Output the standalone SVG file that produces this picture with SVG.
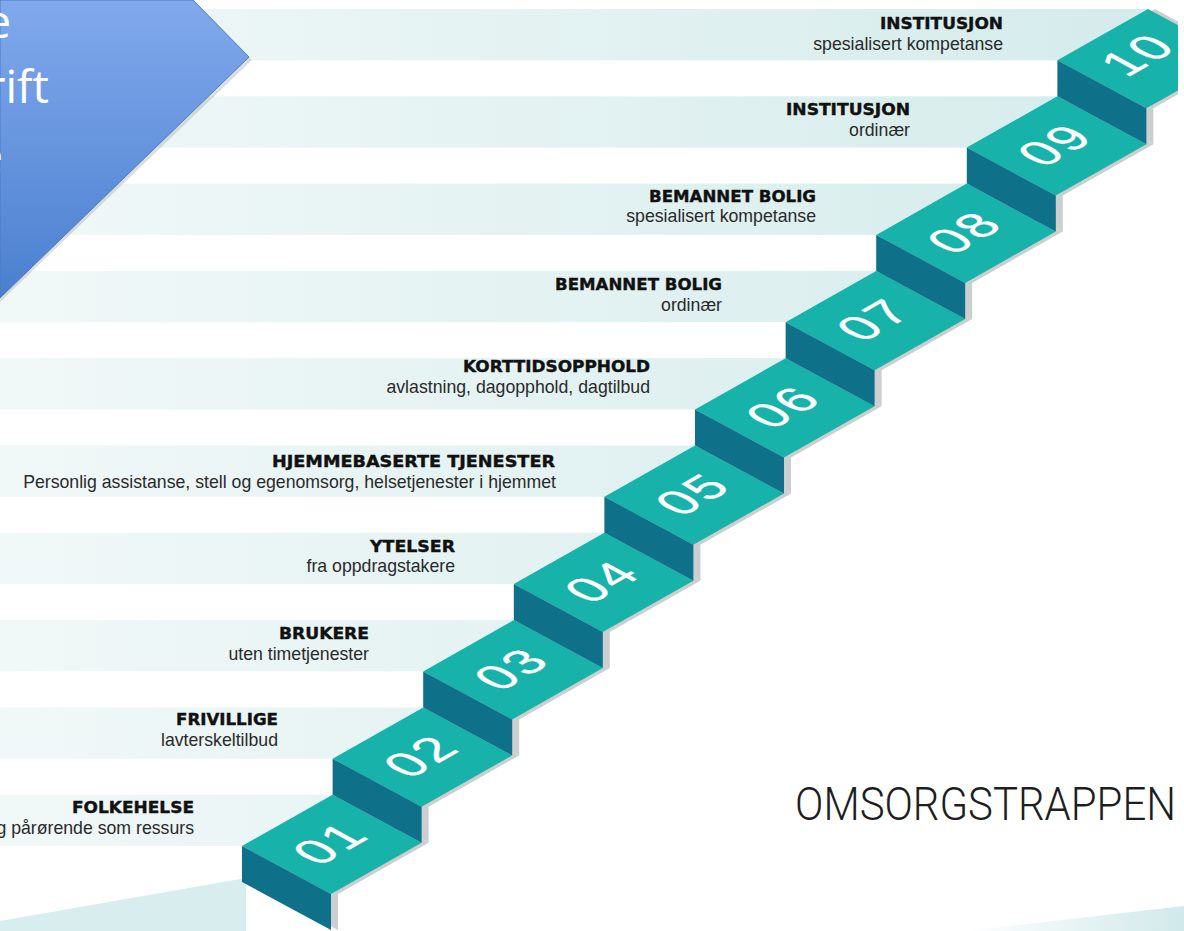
<svg xmlns="http://www.w3.org/2000/svg" xmlns:xlink="http://www.w3.org/1999/xlink" width="1184" height="931" viewBox="0 0 1184 931">
  <style>
    .band { fill: url(#bandGrad); }
    .tread { fill: #17b3aa; }
    .riser { fill: #0f7189; }
    .shadow { fill: #cbcfd0; }
    .num { font-family: "Liberation Sans", Arial, sans-serif; font-size: 50px; fill: #ffffff; stroke: #ffffff; stroke-width: 0.4px; letter-spacing: 3px; text-anchor: middle; }
    .head { font-family: "DejaVu Sans", "Liberation Sans", sans-serif; font-weight: bold; font-size: 16px; fill: #111111; stroke: #111111; stroke-width: 0.4px; }
    .sub { font-family: "Liberation Sans", Arial, sans-serif; font-size: 17.7px; fill: #2a2a2a; text-anchor: end; }
    .title { font-family: "Roboto Light", Roboto, "Liberation Sans", sans-serif; font-weight: 300; font-size: 46px; fill: #1e1e1e; }
    .cut { font-family: "Open Sans", "Noto Sans", sans-serif; font-size: 46px; fill: #ffffff; text-anchor: end; }
  </style>
  <defs>
    <linearGradient id="bandGrad" gradientUnits="userSpaceOnUse" x1="0" y1="0" x2="1100" y2="0">
      <stop offset="0" stop-color="#f1f8f8"/>
      <stop offset="1" stop-color="#d6ecec"/>
    </linearGradient>
    <linearGradient id="floorGrad" gradientUnits="userSpaceOnUse" x1="960" y1="0" x2="1184" y2="0">
      <stop offset="0" stop-color="#ffffff"/>
      <stop offset="1" stop-color="#d0e9ea"/>
    </linearGradient>
    <linearGradient id="blueGrad" gradientUnits="userSpaceOnUse" x1="0" y1="0" x2="0" y2="300">
      <stop offset="0" stop-color="#81a9ed"/>
      <stop offset="1" stop-color="#4a7fce"/>
    </linearGradient>
    <clipPath id="stairClip">
      <rect x="0" y="0" width="1178" height="931"/>
    </clipPath>
    <polygon id="treadShape" points="0,0 90.6,-51.3 179.6,-3.3 89,48"/>
    <polygon id="riserShape" points="0,0 89,48 89,84 0,36"/>
    <polygon id="blockShape" points="0,0 90.6,-51.3 179.6,-3.3 89,48 89,84 0,36"/>
  </defs>

  <rect x="0" y="0" width="1184" height="931" fill="#ffffff"/>

  <!-- background bands -->
  <g id="bands">
    <rect class="band" x="0" y="9" width="1148" height="51.3"/>
    <rect class="band" x="0" y="96.3" width="1057.4" height="51.3"/>
    <rect class="band" x="0" y="183.6" width="966.8" height="51.3"/>
    <rect class="band" x="0" y="270.9" width="876.2" height="51.3"/>
    <rect class="band" x="0" y="358.2" width="785.6" height="51.3"/>
    <rect class="band" x="0" y="445.5" width="695" height="51.3"/>
    <rect class="band" x="0" y="532.8" width="604.4" height="51.3"/>
    <rect class="band" x="0" y="620.1" width="513.8" height="51.3"/>
    <rect class="band" x="0" y="707.4" width="423.2" height="51.3"/>
    <rect class="band" x="0" y="794.7" width="332.6" height="51.3"/>
  </g>

  <!-- floor -->
  <g id="floor">
    <polygon points="0,921 246,878 246,931 0,931" fill="#d8eded"/>
    <polygon points="967,931 1184,906 1184,931" fill="url(#floorGrad)"/>
  </g>

  <!-- blue callout (cut off at the top-left) -->
  <g id="callout">
    <polygon points="0,2 195,2 252,60 0,302" fill="#9aa3ad" opacity="0.35"/>
    <polygon points="0,0 193,0 249,57 0,298" fill="url(#blueGrad)" stroke="#4b7dbf" stroke-width="1"/>
    <text class="cut" x="11" y="38">e</text>
    <text class="cut" x="49" y="103">rift</text>
    <text class="cut" x="3" y="172">e</text>
  </g>

  <!-- labels -->
  <g id="label10">
    <text class="head" x="880" y="29" textLength="123" lengthAdjust="spacingAndGlyphs">INSTITUSJON</text>
    <text class="sub" x="1003" y="49.5">spesialisert kompetanse</text>
  </g>
  <g id="label09">
    <text class="head" x="786" y="115" textLength="124" lengthAdjust="spacingAndGlyphs">INSTITUSJON</text>
    <text class="sub" x="910" y="135.5">ordinær</text>
  </g>
  <g id="label08">
    <text class="head" x="649" y="202" textLength="167" lengthAdjust="spacingAndGlyphs">BEMANNET BOLIG</text>
    <text class="sub" x="816" y="222">spesialisert kompetanse</text>
  </g>
  <g id="label07">
    <text class="head" x="555" y="290" textLength="167" lengthAdjust="spacingAndGlyphs">BEMANNET BOLIG</text>
    <text class="sub" x="722" y="310.5">ordinær</text>
  </g>
  <g id="label06">
    <text class="head" x="463" y="372" textLength="187" lengthAdjust="spacingAndGlyphs">KORTTIDSOPPHOLD</text>
    <text class="sub" x="650" y="392.5">avlastning, dagopphold, dagtilbud</text>
  </g>
  <g id="label05">
    <text class="head" x="272" y="466.5" textLength="283" lengthAdjust="spacingAndGlyphs">HJEMMEBASERTE TJENESTER</text>
    <text class="sub" x="556" y="487.5">Personlig assistanse, stell og egenomsorg, helsetjenester i hjemmet</text>
  </g>
  <g id="label04">
    <text class="head" x="370" y="552" textLength="85" lengthAdjust="spacingAndGlyphs">YTELSER</text>
    <text class="sub" x="455" y="572">fra oppdragstakere</text>
  </g>
  <g id="label03">
    <text class="head" x="279" y="639" textLength="90" lengthAdjust="spacingAndGlyphs">BRUKERE</text>
    <text class="sub" x="369" y="659.5">uten timetjenester</text>
  </g>
  <g id="label02">
    <text class="head" x="176" y="725" textLength="102" lengthAdjust="spacingAndGlyphs">FRIVILLIGE</text>
    <text class="sub" x="278" y="745.5">lavterskeltilbud</text>
  </g>
  <g id="label01">
    <text class="head" x="72" y="813" textLength="122" lengthAdjust="spacingAndGlyphs">FOLKEHELSE</text>
    <text class="sub" x="194" y="833.5">g pårørende som ressurs</text>
  </g>

  <g id="title">
    <text class="title" x="795" y="820" textLength="381" lengthAdjust="spacingAndGlyphs">OMSORGSTRAPPEN</text>
  </g>

  <!-- staircase -->
  <g id="staircase" clip-path="url(#stairClip)">
    <g id="stair-shadow" class="shadow" transform="translate(7,0)">
      <use xlink:href="#blockShape" href="#blockShape" transform="translate(242,846)"/>
      <use xlink:href="#blockShape" href="#blockShape" transform="translate(332.6,758.7)"/>
      <use xlink:href="#blockShape" href="#blockShape" transform="translate(423.2,671.4)"/>
      <use xlink:href="#blockShape" href="#blockShape" transform="translate(513.8,584.1)"/>
      <use xlink:href="#blockShape" href="#blockShape" transform="translate(604.4,496.8)"/>
      <use xlink:href="#blockShape" href="#blockShape" transform="translate(695,409.5)"/>
      <use xlink:href="#blockShape" href="#blockShape" transform="translate(785.6,322.2)"/>
      <use xlink:href="#blockShape" href="#blockShape" transform="translate(876.2,234.9)"/>
      <use xlink:href="#blockShape" href="#blockShape" transform="translate(966.8,147.6)"/>
      <use xlink:href="#blockShape" href="#blockShape" transform="translate(1057.4,60.3)"/>
    </g>
    <g id="step01" transform="translate(242,846)">
      <use class="tread" xlink:href="#treadShape" href="#treadShape"/>
      <use class="riser" xlink:href="#riserShape" href="#riserShape"/>
      <text class="num" transform="matrix(0.870,-0.493,0.880,0.475,88,-3)" y="18">01</text>
    </g>
    <g id="step02" transform="translate(332.6,758.7)">
      <use class="tread" xlink:href="#treadShape" href="#treadShape"/>
      <use class="riser" xlink:href="#riserShape" href="#riserShape"/>
      <text class="num" transform="matrix(0.870,-0.493,0.880,0.475,88,-3)" y="18">02</text>
    </g>
    <g id="step03" transform="translate(423.2,671.4)">
      <use class="tread" xlink:href="#treadShape" href="#treadShape"/>
      <use class="riser" xlink:href="#riserShape" href="#riserShape"/>
      <text class="num" transform="matrix(0.870,-0.493,0.880,0.475,88,-3)" y="18">03</text>
    </g>
    <g id="step04" transform="translate(513.8,584.1)">
      <use class="tread" xlink:href="#treadShape" href="#treadShape"/>
      <use class="riser" xlink:href="#riserShape" href="#riserShape"/>
      <text class="num" transform="matrix(0.870,-0.493,0.880,0.475,88,-3)" y="18">04</text>
    </g>
    <g id="step05" transform="translate(604.4,496.8)">
      <use class="tread" xlink:href="#treadShape" href="#treadShape"/>
      <use class="riser" xlink:href="#riserShape" href="#riserShape"/>
      <text class="num" transform="matrix(0.870,-0.493,0.880,0.475,88,-3)" y="18">05</text>
    </g>
    <g id="step06" transform="translate(695,409.5)">
      <use class="tread" xlink:href="#treadShape" href="#treadShape"/>
      <use class="riser" xlink:href="#riserShape" href="#riserShape"/>
      <text class="num" transform="matrix(0.870,-0.493,0.880,0.475,88,-3)" y="18">06</text>
    </g>
    <g id="step07" transform="translate(785.6,322.2)">
      <use class="tread" xlink:href="#treadShape" href="#treadShape"/>
      <use class="riser" xlink:href="#riserShape" href="#riserShape"/>
      <text class="num" transform="matrix(0.870,-0.493,0.880,0.475,88,-3)" y="18">07</text>
    </g>
    <g id="step08" transform="translate(876.2,234.9)">
      <use class="tread" xlink:href="#treadShape" href="#treadShape"/>
      <use class="riser" xlink:href="#riserShape" href="#riserShape"/>
      <text class="num" transform="matrix(0.870,-0.493,0.880,0.475,88,-3)" y="18">08</text>
    </g>
    <g id="step09" transform="translate(966.8,147.6)">
      <use class="tread" xlink:href="#treadShape" href="#treadShape"/>
      <use class="riser" xlink:href="#riserShape" href="#riserShape"/>
      <text class="num" transform="matrix(0.870,-0.493,0.880,0.475,88,-3)" y="18">09</text>
    </g>
    <g id="step10" transform="translate(1057.4,60.3)">
      <use class="tread" xlink:href="#treadShape" href="#treadShape"/>
      <use class="riser" xlink:href="#riserShape" href="#riserShape"/>
      <text class="num" transform="matrix(0.870,-0.493,0.880,0.475,80,-6)" y="18">10</text>
    </g>
  </g>
</svg>
